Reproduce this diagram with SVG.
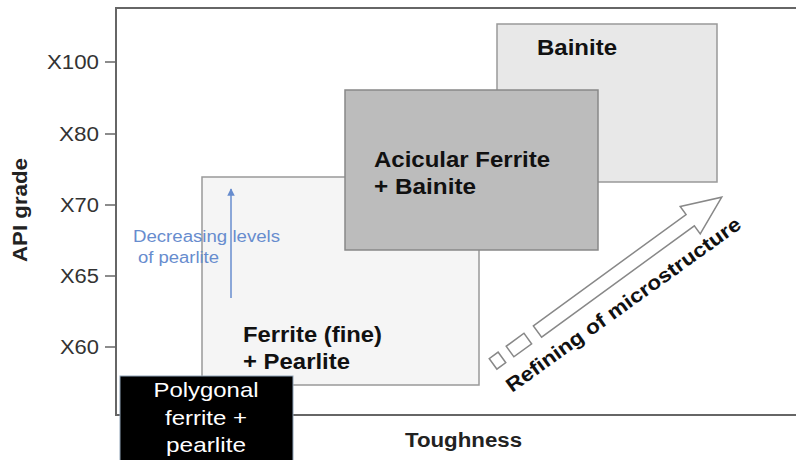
<svg xmlns="http://www.w3.org/2000/svg" width="796" height="460" viewBox="0 0 796 460">
<defs>
<style>
text{font-family:"Liberation Sans",Arial,sans-serif}
.tick{font-size:20px;fill:#333;text-anchor:end}
.lbl{font-size:22px;font-weight:bold;fill:#111}
.axis{font-size:20px;font-weight:bold;fill:#222}
.box{stroke-width:1.5}
.blue{font-size:16px;fill:#678cce}
.poly{font-size:21px;fill:#fff;text-anchor:middle}
.ref{fill:#fff;stroke:#888;stroke-width:1.5}
</style>
<marker id="bh" viewBox="0 0 10 10" refX="9" refY="5" markerWidth="5" markerHeight="5" orient="auto">
<path d="M0,0 L10,5 L0,10 z" fill="#678cce"/>
</marker>
</defs>
<rect width="796" height="460" fill="#fff"/>
<g id="axes">
<path d="M796,8 H116 V415 H796" fill="none" stroke="#666" stroke-width="2"/>
<g stroke="#666" stroke-width="1.5">
<line x1="105" y1="62" x2="116" y2="62"/>
<line x1="105" y1="134" x2="116" y2="134"/>
<line x1="105" y1="205" x2="116" y2="205"/>
<line x1="105" y1="276" x2="116" y2="276"/>
<line x1="105" y1="347" x2="116" y2="347"/>
</g>
<text class="tick" x="99" y="69" textLength="52" lengthAdjust="spacingAndGlyphs">X100</text>
<text class="tick" x="99" y="141" textLength="40" lengthAdjust="spacingAndGlyphs">X80</text>
<text class="tick" x="99" y="212" textLength="39" lengthAdjust="spacingAndGlyphs">X70</text>
<text class="tick" x="99" y="283" textLength="39" lengthAdjust="spacingAndGlyphs">X65</text>
<text class="tick" x="99" y="354" textLength="39" lengthAdjust="spacingAndGlyphs">X60</text>
<text class="axis" transform="translate(27,262) rotate(-90)" font-size="19" textLength="104" lengthAdjust="spacingAndGlyphs">API grade</text>
<text class="axis" x="405" y="447" textLength="117" lengthAdjust="spacingAndGlyphs">Toughness</text>
</g>
<g id="bainite">
<rect class="box" x="497" y="24" width="220" height="158" fill="#e8e8e8" stroke="#999"/>
<text class="lbl" x="537" y="55" textLength="80" lengthAdjust="spacingAndGlyphs">Bainite</text>
</g>
<g id="ferrite-pearlite">
<rect class="box" x="202" y="177" width="277" height="208" fill="#f5f5f5" stroke="#999"/>
<text class="lbl" x="243" y="342" textLength="139" lengthAdjust="spacingAndGlyphs">Ferrite (fine)</text>
<text class="lbl" x="243" y="369" textLength="107" lengthAdjust="spacingAndGlyphs">+ Pearlite</text>
</g>
<g id="acicular">
<rect class="box" x="345" y="90" width="253" height="160" fill="#bcbcbc" stroke="#888"/>
<text class="lbl" x="374" y="167" textLength="176" lengthAdjust="spacingAndGlyphs">Acicular Ferrite</text>
<text class="lbl" x="374" y="194" textLength="102" lengthAdjust="spacingAndGlyphs">+ Bainite</text>
</g>
<g id="polygonal">
<rect x="120" y="376" width="173" height="90" fill="#000" stroke="#8fa3b8" stroke-width="1"/>
<text class="poly" x="206" y="397" textLength="105" lengthAdjust="spacingAndGlyphs">Polygonal</text>
<text class="poly" x="206" y="425" textLength="82" lengthAdjust="spacingAndGlyphs">ferrite +</text>
<text class="poly" x="206" y="452" textLength="80" lengthAdjust="spacingAndGlyphs">pearlite</text>
</g>
<g id="pearlite-note">
<text class="blue" x="133" y="242" textLength="147" lengthAdjust="spacingAndGlyphs">Decreasing levels</text>
<text class="blue" x="138" y="263" textLength="81" lengthAdjust="spacingAndGlyphs">of pearlite</text>
</g>
<g id="connectors">
<line x1="231" y1="298" x2="231" y2="189" stroke="#678cce" stroke-width="1.5" marker-end="url(#bh)"/>
<g transform="translate(537.5,331.5) rotate(-36.1)">
<path class="ref" d="M0,-7 H189 V-17 L228,0 L189,17 V7 H0 Z"/>
<rect class="ref" x="-34" y="-6.5" width="22" height="13"/>
<rect class="ref" x="-55" y="-6.5" width="11" height="13"/>
</g>
</g>
<g id="refining-label">
<text font-size="20" font-weight="bold" fill="#111" transform="translate(512,393) rotate(-35.7)" textLength="284" lengthAdjust="spacingAndGlyphs">Refining of microstructure</text>
</g>
</svg>
